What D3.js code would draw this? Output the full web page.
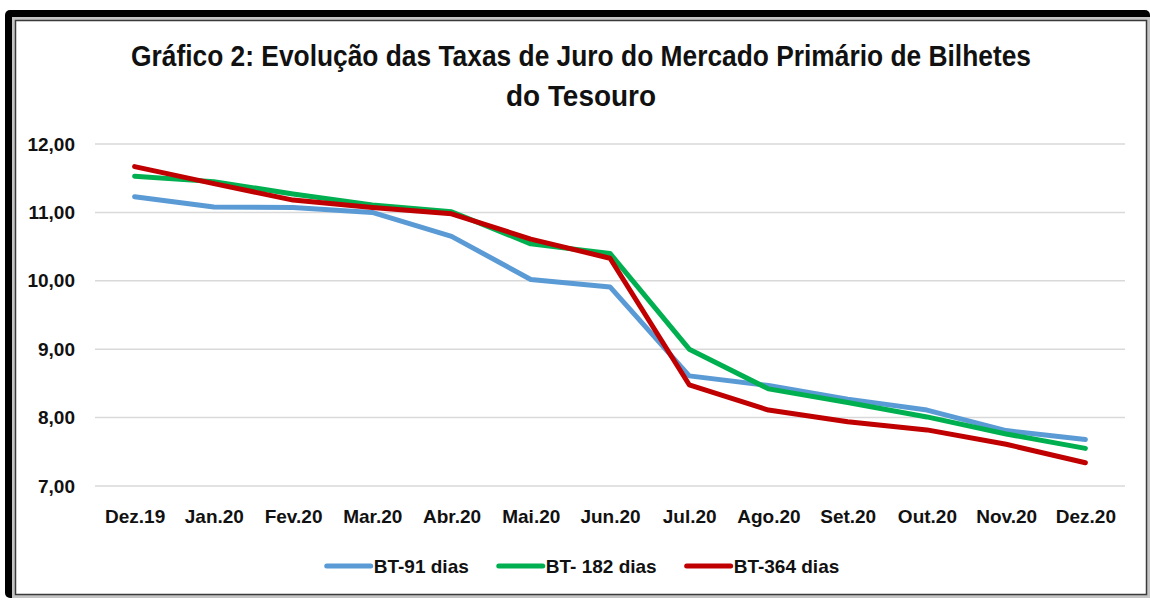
<!DOCTYPE html>
<html>
<head>
<meta charset="utf-8">
<script src="https://cdn.jsdelivr.net/npm/d3@7"></script>
<style>
  body { margin: 0; background: #fff; }
  text { font-family: "Liberation Sans Narrow", "Arial Narrow", "Liberation Sans", sans-serif; font-weight: bold; fill: #111; }
</style>
</head>
<body>
<div class="lineChart"></div>
<script>
const months = ["Dez.19", "Jan.20", "Fev.20", "Mar.20", "Abr.20", "Mai.20", "Jun.20",
  "Jul.20", "Ago.20", "Set.20", "Out.20", "Nov.20", "Dez.20"];
const bt91 = [11.23, 11.08, 11.07, 11.00, 10.65, 10.02, 9.91, 8.61, 8.47, 8.27, 8.11, 7.81, 7.68];
const bt182 = [11.53, 11.45, 11.27, 11.11, 11.01, 10.54, 10.40, 9.00, 8.42, 8.22, 8.01, 7.76, 7.55];
const bt364 = [11.67, 11.42, 11.18, 11.07, 10.98, 10.61, 10.33, 8.48, 8.11, 7.94, 7.82, 7.61, 7.34];
const yTicks = [7, 8, 9, 10, 11, 12];
const seriesNames = ["BT-91 dias", "BT- 182 dias", "BT-364 dias"];
const seriesColors = ["#5b9bd5", "#00b050", "#c00000"];

const width = 1150, height = 600;

const svg = d3.select(".lineChart")
  .append("svg")
  .attr("width", width)
  .attr("height", height);

// frame with the dark shadow on top / left
svg.append("rect").attr("x", 5).attr("y", 10).attr("width", 1145).attr("height", 588)
  .attr("rx", 5).attr("fill", "#000");
svg.append("rect").attr("x", 12).attr("y", 17).attr("width", 1138).attr("height", 581)
  .attr("fill", "#c4c4c4");
svg.append("rect").attr("x", 15.5).attr("y", 20.5).attr("width", 1131).attr("height", 574)
  .attr("fill", "#fff").attr("stroke", "#3a3a3a").attr("stroke-width", 1.5);

// title
const title = svg.append("g").attr("class", "title");
title.append("text")
  .attr("x", 581).attr("y", 66)
  .attr("text-anchor", "middle")
  .attr("font-size", 29)
  .attr("textLength", 900)
  .attr("lengthAdjust", "spacingAndGlyphs")
  .text("Gráfico 2: Evolução das Taxas de Juro do Mercado Primário de Bilhetes");
title.append("text")
  .attr("x", 581).attr("y", 106)
  .attr("text-anchor", "middle")
  .attr("font-size", 29)
  .attr("textLength", 150)
  .attr("lengthAdjust", "spacingAndGlyphs")
  .text("do Tesouro");

const x = d3.scalePoint().domain(months).range([95, 1125]).padding(0.5);
const y = d3.scaleLinear().domain([7, 12]).range([486, 144]);

const pt = d3.formatLocale({ decimal: ",", thousands: ".", grouping: [3], currency: ["", ""] });
const fmt = pt.format(".2f");

// gridlines
svg.append("g")
  .selectAll("line")
  .data(yTicks)
  .enter()
  .append("line")
  .attr("x1", 95).attr("x2", 1125)
  .attr("y1", d => y(d)).attr("y2", d => y(d))
  .attr("stroke", "#d9d9d9")
  .attr("stroke-width", 1.5);

const yAxis = d3.axisLeft(y).tickValues(yTicks).tickFormat(fmt).tickSize(0).tickPadding(20);
svg.append("g")
  .attr("class", "y axis")
  .attr("transform", "translate(95,0)")
  .call(yAxis)
  .call(g => g.select(".domain").remove())
  .selectAll("text")
  .attr("font-size", 19)
  .attr("fill", "#111");

const xAxis = d3.axisBottom(x).tickSize(0).tickPadding(10);
svg.append("g")
  .attr("class", "x axis")
  .attr("transform", "translate(0,500)")
  .call(xAxis)
  .call(g => g.select(".domain").remove())
  .selectAll("text")
  .attr("font-size", 19)
  .attr("fill", "#111");

// series lines
const series = [bt91, bt182, bt364];
const line = d3.line()
  .x((d, i) => x(months[i]))
  .y(d => y(d));

svg.append("g")
  .selectAll("path")
  .data(series)
  .enter()
  .append("path")
  .attr("d", d => line(d))
  .attr("fill", "none")
  .attr("stroke", (d, i) => seriesColors[i])
  .attr("stroke-width", 5)
  .attr("stroke-linejoin", "round")
  .attr("stroke-linecap", "round");

// legend
const legend = svg.append("g").attr("class", "legend");
const items = legend.selectAll("g")
  .data(seriesNames)
  .enter()
  .append("g");
items.append("line")
  .attr("x1", 0).attr("x2", 44)
  .attr("y1", 0).attr("y2", 0)
  .attr("stroke", (d, i) => seriesColors[i])
  .attr("stroke-width", 5)
  .attr("stroke-linecap", "round");
items.append("text")
  .attr("x", 47).attr("y", 7)
  .attr("font-size", 19)
  .text(d => d);

let offset = 0;
const gap = 30;
items.each(function() {
  const w = this.getBBox().width;
  d3.select(this).attr("transform", "translate(" + offset + ",0)");
  offset += w + gap;
});
const total = offset - gap;
legend.attr("transform", "translate(" + (583 - total / 2) + ",566)");
</script>
</body>
</html>
